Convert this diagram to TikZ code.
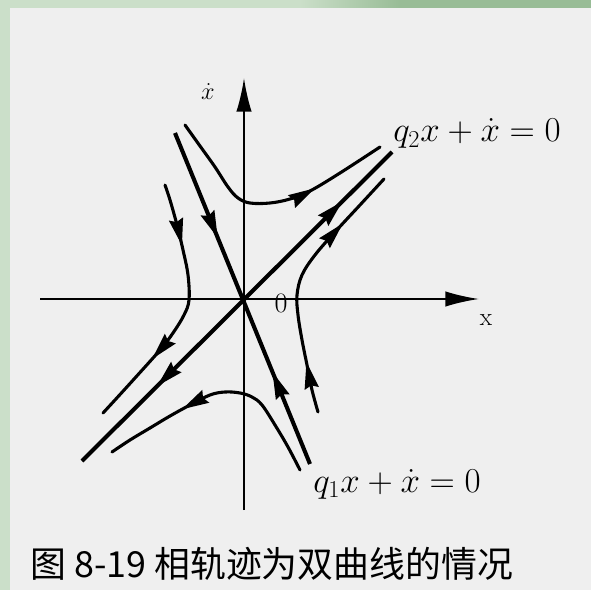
\documentclass[tikz,border=0pt]{standalone}
\usepackage{amsmath,amssymb}
\usepackage{fontspec}
\usepackage{xcolor}
\newfontfamily\cjkfont{Noto Sans CJK SC}
\usetikzlibrary{arrows.meta,decorations.markings}
\definecolor{panelgray}{RGB}{239,239,239}
\definecolor{palegreen}{RGB}{203,223,201}
\definecolor{deepgreen}{RGB}{152,188,150}

\begin{document}
\begin{tikzpicture}[x=0.025cm,y=-0.025cm,
  axis/.style={line width=1.4pt,-{Latex[length=24pt,width=11pt]}},
  orbit/.style={line width=2.2pt,line join=round,line cap=round},
  separatrix/.style={line width=2.9pt},
  fwd/.style={postaction={decorate,decoration={markings,
    mark=at position #1 with {\arrow{Stealth[length=19pt,width=10pt,inset=2pt]}}}}},
  bwd/.style={postaction={decorate,decoration={markings,
    mark=at position #1 with {\arrowreversed{Stealth[length=19pt,width=10pt,inset=2pt]}}}}},
  eqlabel/.style={font=\fontsize{26}{30}\selectfont,inner sep=0pt}]
\useasboundingbox (0,0) rectangle (591,590);
% background
\fill[palegreen] (0,0) rectangle (591,590);
\shade[left color=palegreen,right color=deepgreen] (300,0) rectangle (400,8);
\fill[deepgreen] (400,0) rectangle (591,8);
\fill[panelgray] (10,8) rectangle (591,590);

% axes
\coordinate (O) at (244,299);
\coordinate (xl) at (40,299);
\coordinate (xr) at (479,299);
\coordinate (yb) at (244,510);
\coordinate (yt) at (244,78);
\draw[axis] (xl) -- (xr);
\draw[axis] (yb) -- (yt);
\node[font=\fontsize{18}{20}\selectfont,inner sep=0pt] (ydot) at (208,92) {$\dot{x}$};
\node[font=\fontsize{18}{20}\selectfont] (xlab) at (486,320) {$\mathrm{x}$};
\node[font=\fontsize{20}{22}\selectfont] (zero) at (281,303) {0};

% separatrices
\coordinate (q1a) at (175,133);
\coordinate (q1b) at (310,464);
\coordinate (q2a) at (82,461);
\coordinate (q2b) at (392,152);
\draw[separatrix,fwd=0.317,bwd=0.722] (q1a) -- (q1b);
\draw[separatrix,bwd=0.242,fwd=0.84] (q2a) -- (q2b);

% hyperbolic orbits
\draw[orbit,fwd=0.69] plot[smooth,tension=0.6] coordinates {(185,125) (200,146) (215,167) (228,187) (238,198) (250,203) (270,203) (290,199) (310,191) (340,173) (380,147)};
\draw[orbit,fwd=0.24,fwd=0.72] plot[smooth,tension=0.6] coordinates {(165,185) (170,200) (177,225) (183,250) (188,275) (189,300) (184,315) (173,333) (160,350) (135,378) (115,400) (103,413)};
\draw[orbit,bwd=0.335] plot[smooth,tension=0.6] coordinates {(112,452) (130,440) (150,428) (170,416) (190,405) (210,395) (225,392) (240,393) (252,397) (262,405) (275,425) (288,447) (300,470)};
\draw[orbit,bwd=0.227,bwd=0.807] plot[smooth,tension=0.6] coordinates {(384,179) (360,205) (335,232) (315,255) (302,275) (297,295) (298,315) (302,340) (307,365) (312,390) (318,412)};

% labels
\node[eqlabel,anchor=base west] (q2lab) at (393,142) {$q_2x+\dot{x}=0$};
\node[eqlabel,anchor=base west] (q1lab) at (313,492) {$q_1x+\dot{x}=0$};
\node[anchor=base west,inner sep=0pt,font=\cjkfont\fontsize{25.5}{30}\selectfont] (caption) at (30,577) {图 8-19 相轨迹为双曲线的情况};
\end{tikzpicture}
\end{document}
